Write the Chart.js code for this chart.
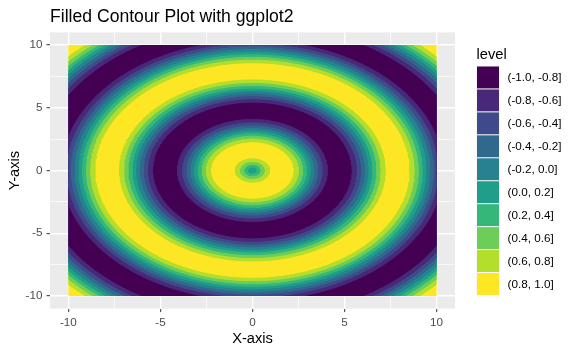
<!DOCTYPE html>
<html>
<head>
<meta charset="utf-8">
<script src="https://cdn.jsdelivr.net/npm/chart.js@4"></script>
<style>
  html, body { margin: 0; padding: 0; background: #ffffff; }
  canvas { display: block; }
</style>
</head>
<body>
<canvas id="c" width="577" height="354"></canvas>
<script>
// ---- data ----
const levelLabels = ['(-1.0, -0.8]', '(-0.8, -0.6]', '(-0.6, -0.4]', '(-0.4, -0.2]', '(-0.2, 0.0]',
                     '(0.0, 0.2]', '(0.2, 0.4]', '(0.4, 0.6]', '(0.6, 0.8]', '(0.8, 1.0]'];
// radii (data units, distance from centre) of the contour boundaries, outermost first
const boundaryRadii = [14.2, 13.49, 13.21, 12.98, 12.77, 12.57, 12.36, 12.15, 11.92, 11.64,
                       10.35, 10.07, 9.84, 9.63, 9.42, 9.22, 9.01, 8.78, 8.50,
                       7.21, 6.93, 6.70, 6.48, 6.28, 6.08, 5.87, 5.64, 5.36,
                       4.07, 3.79, 3.55, 3.34, 3.14, 2.94, 2.73, 2.50, 2.21,
                       0.93, 0.64, 0.41, 0.20];
// level index (into levelLabels) of the band just inside each boundary
const innerLevel = [9, 8, 7, 6, 5, 4, 3, 2, 1, 0,
                    1, 2, 3, 4, 5, 6, 7, 8, 9,
                    8, 7, 6, 5, 4, 3, 2, 1, 0,
                    1, 2, 3, 4, 5, 6, 7, 8, 9,
                    8, 7, 6, 5];
const dataExtent = [-10, 10];
const axisRange = [-11, 11];
const majorTicks = [-10, -5, 0, 5, 10];
const minorTicks = [-7.5, -2.5, 2.5, 7.5];

// ---- styles ----
const levelColors = ['#440154', '#482878', '#3E4A89', '#31688E', '#26828E',
                     '#1F9E89', '#35B779', '#6DCD59', '#B4DE2C', '#FDE725'];
const FONT = "'Liberation Sans', Arial, sans-serif";

function circlePoints(r) {
  const pts = [];
  const n = 360;
  for (let i = 0; i <= n; i++) {
    const t = (i / n) * 2 * Math.PI;
    pts.push({ x: r * Math.cos(t), y: r * Math.sin(t) });
  }
  return pts;
}

// smallest circle first so that it is drawn on top
const datasets = boundaryRadii.map((r, i) => ({ r, lvl: innerLevel[i] }))
  .sort((a, b) => a.r - b.r)
  .map(d => ({
    data: circlePoints(d.r),
    showLine: true,
    fill: 'shape',
    backgroundColor: levelColors[d.lvl],
    borderColor: levelColors[d.lvl],
    borderWidth: 1,
    pointRadius: 0,
    tension: 0
  }));

const allTicks = majorTicks.concat(minorTicks).sort((a, b) => a - b);
const isMajor = v => majorTicks.indexOf(v) >= 0;

const panelPlugin = {
  id: 'panel',
  beforeDraw(chart) {
    const { ctx, chartArea: a } = chart;
    ctx.save();
    ctx.fillStyle = '#EBEBEB';
    ctx.fillRect(a.left, a.top, a.right - a.left, a.bottom - a.top);
    ctx.restore();
  },
  beforeDatasetsDraw(chart) {
    const { ctx, scales } = chart;
    const x0 = scales.x.getPixelForValue(dataExtent[0]);
    const x1 = scales.x.getPixelForValue(dataExtent[1]);
    const y0 = scales.y.getPixelForValue(dataExtent[1]);
    const y1 = scales.y.getPixelForValue(dataExtent[0]);
    ctx.save();
    ctx.beginPath();
    ctx.rect(x0, y0, x1 - x0, y1 - y0);
    ctx.clip();
  },
  afterDatasetsDraw(chart) {
    chart.ctx.restore();
  },
  afterDraw(chart) {
    const { ctx, chartArea: a } = chart;
    ctx.save();
    // title
    ctx.fillStyle = '#000000';
    ctx.font = '17.6px ' + FONT;
    ctx.textAlign = 'left';
    ctx.textBaseline = 'alphabetic';
    ctx.fillText('Filled Contour Plot with ggplot2', a.left, 21.5);
    // axis titles
    ctx.font = '14.67px ' + FONT;
    ctx.textAlign = 'center';
    ctx.fillText('X-axis', (a.left + a.right) / 2, 343);
    ctx.save();
    ctx.translate(19, (a.top + a.bottom) / 2);
    ctx.rotate(-Math.PI / 2);
    ctx.fillText('Y-axis', 0, 0);
    ctx.restore();
    // legend
    const lx = 476.5;
    ctx.textAlign = 'left';
    ctx.fillText('level', lx, 59.3);
    ctx.font = '11.7px ' + FONT;
    ctx.textBaseline = 'middle';
    for (let i = 0; i < levelLabels.length; i++) {
      const top = 66.5 + i * 22.95;
      ctx.fillStyle = '#F2F2F2';
      ctx.fillRect(lx, top - 0.5, 23, 23);
      ctx.fillStyle = levelColors[i];
      ctx.fillRect(lx + 0.5, top, 22, 21.9);
      ctx.fillStyle = '#000000';
      ctx.fillText(levelLabels[i], 507.5, top + 11.3);
    }
    ctx.restore();
  }
};

function axisOptions(extra) {
  return Object.assign({
    type: 'linear',
    min: axisRange[0],
    max: axisRange[1],
    afterBuildTicks(scale) {
      scale.ticks = allTicks.map(v => ({ value: v }));
    },
    grid: {
      color: '#FFFFFF',
      lineWidth: c => (c.tick && isMajor(c.tick.value)) ? 1.4 : 0.7,
      drawTicks: true,
      tickLength: 3.5,
      tickWidth: 1,
      tickColor: c => (c.tick && isMajor(c.tick.value)) ? '#333333' : 'rgba(0,0,0,0)'
    },
    border: { display: false },
    ticks: {
      autoSkip: false,
      maxRotation: 0,
      color: '#4D4D4D',
      font: { family: FONT, size: 11.7 },
      callback: v => isMajor(v) ? String(v) : ''
    }
  }, extra);
}

new Chart(document.getElementById('c'), {
  type: 'scatter',
  data: { datasets },
  options: {
    responsive: false,
    animation: false,
    events: [],
    layout: { padding: { top: 32.4, right: 122, left: 0, bottom: 0 } },
    plugins: { legend: { display: false }, tooltip: { enabled: false }, title: { display: false } },
    scales: {
      x: axisOptions({
        position: 'bottom',
        afterFit(scale) { scale.height = 354 - 308.6; },
        ticks: Object.assign({}, axisOptions({}).ticks, { padding: 4 })
      }),
      y: axisOptions({
        position: 'left',
        afterFit(scale) { scale.width = 50; },
        ticks: Object.assign({}, axisOptions({}).ticks, { padding: 4 })
      })
    }
  },
  plugins: [panelPlugin]
});
</script>
</body>
</html>
